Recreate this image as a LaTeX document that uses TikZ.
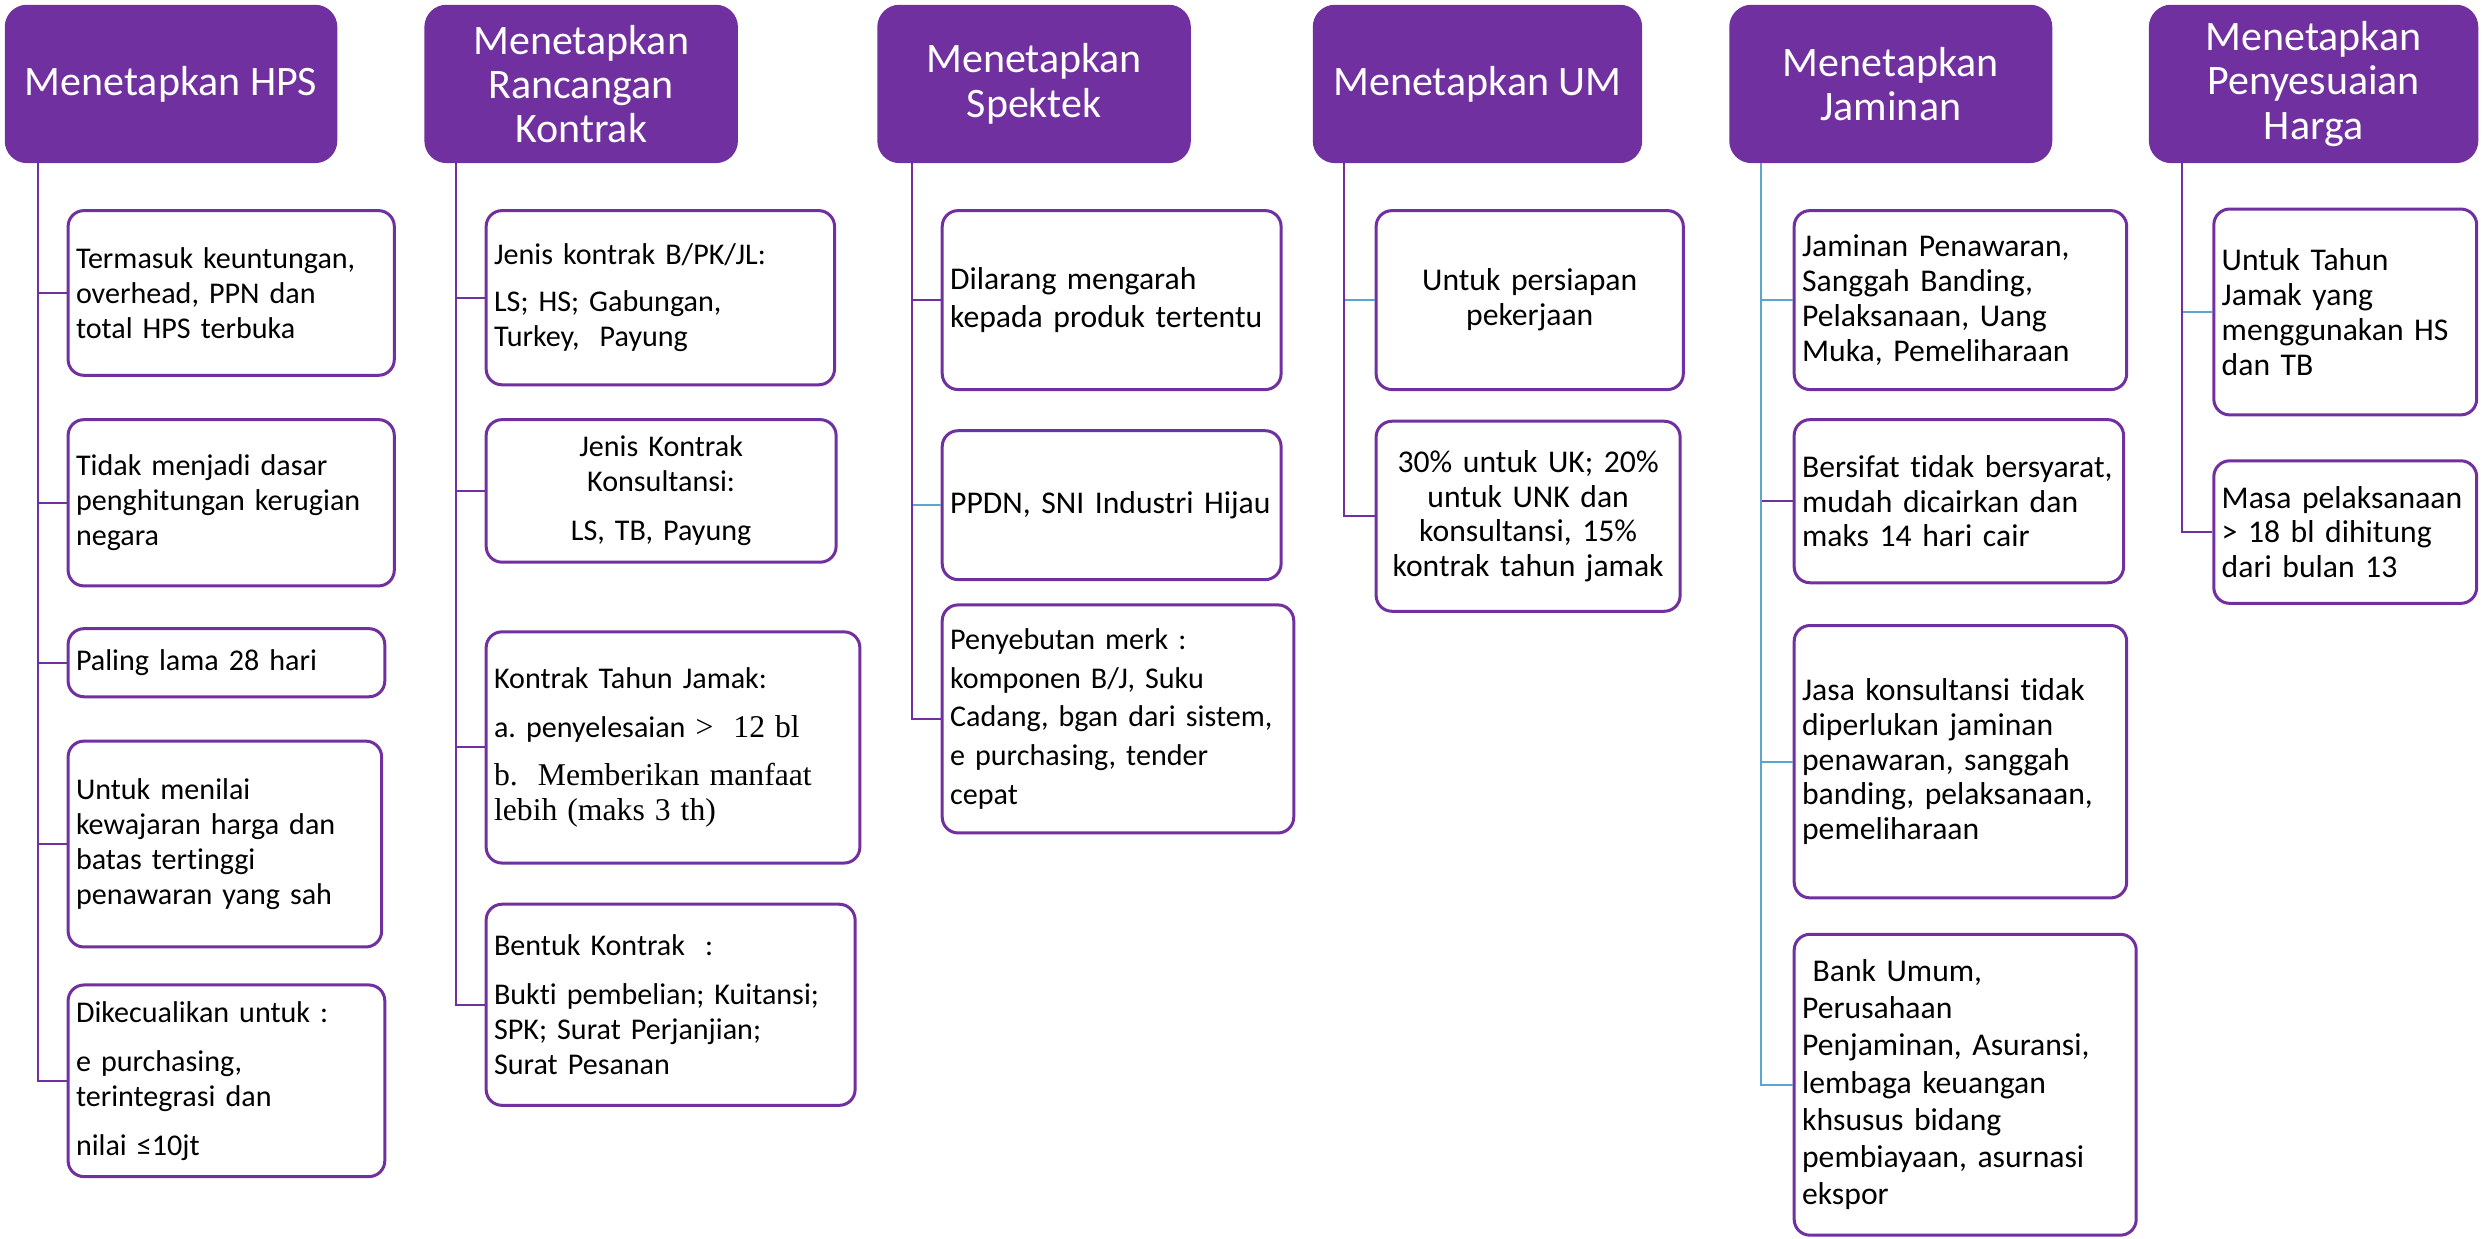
\documentclass[tikz,border=0pt]{standalone}
\usepackage{fontspec}
\setmainfont{Carlito}[Ligatures=NoCommon]
\newfontfamily\timesfont{Liberation Serif}
\definecolor{hpurple}{HTML}{7030A0}
\definecolor{lblue}{HTML}{5BA6D0}
\newcommand{\hdrfont}{\fontsize{26.5}{28}\selectfont}
\newcommand{\bodyfont}{\fontsize{19}{22}\selectfont}
\newcommand{\bodyfontb}{\fontsize{20}{22}\selectfont}
\newcommand{\bodyfontc}{\fontsize{20}{23.5}\selectfont}
\frenchspacing
\tikzset{
  hdr/.style={fill=hpurple, draw=none, rounded corners=14pt, text=white, font=\hdrfont,
    align=center, minimum height=100pt, inner sep=0pt},
  item/.style={draw=hpurple, fill=white, line width=1.9pt, rounded corners=10pt,
    font=\bodyfont, align=left, inner xsep=5pt, inner ysep=0pt},
  itemc/.style={item, align=center},
  conn/.style={draw=hpurple, line width=1.3pt},
  connb/.style={draw=lblue, line width=1.3pt}
}
\begin{document}
\begin{tikzpicture}[x=1pt, y=-1pt]
    \useasboundingbox (0,0) rectangle (1568,782);

    % headers
    \node[hdr, minimum width=210pt] (h1) at (108,53) {Menetapkan HPS};
    \node[hdr, minimum width=198pt] (h2) at (367,53) {Menetapkan\\Rancangan\\Kontrak};
    \node[hdr, minimum width=198pt] (h3) at (653,53) {Menetapkan\\Spektek};
    \node[hdr, minimum width=208pt] (h4) at (933,53) {Menetapkan UM};
    \node[hdr, minimum width=204pt] (h5) at (1194,53) {Menetapkan\\Jaminan};
    \node[hdr, minimum width=208pt] (h6) at (1461,53) {Menetapkan\\Penyesuaian\\Harga};

    % HPS
    \node[item, text width=196pt, minimum height=104pt] (a1) at (146,185)
        {Termasuk keuntungan,\\overhead, PPN dan\\total HPS terbuka};
    \node[item, text width=196pt, minimum height=105pt] (a2) at (146,317.5)
        {Tidak menjadi dasar\\penghitungan kerugian\\negara};
    \node[item, text width=190pt, minimum height=43pt] (a3) at (143,418.5)
        {Paling lama 28 hari};
    \node[item, text width=188pt, minimum height=130pt] (a4) at (142,533)
        {Untuk menilai\\kewajaran harga dan\\batas tertinggi\\penawaran yang sah};
    \node[item, text width=190pt, minimum height=121pt] (a5) at (143,682.5)
        {Dikecualikan untuk :\\[9pt]e purchasing,\\terintegrasi dan\\[9pt]nilai ≤10jt};

    % Rancangan Kontrak
    \node[item, text width=210pt, minimum height=110pt] (b1) at (417,188)
        {Jenis kontrak B/PK/JL:\\[8pt]LS; HS; Gabungan,\\Turkey,\ \ Payung};
    \node[itemc, text width=211pt, minimum height=90pt] (b2) at (417.5,310)
        {Jenis Kontrak\\Konsultansi:\\[9pt]LS, TB, Payung};
    \node[item, text width=226pt, minimum height=146pt] (b3) at (425,472)
        {Kontrak Tahun Jamak:\\[9pt]a. penyelesaian {\timesfont\fontsize{20}{22}\selectfont >\ \ 12 bl}\\[8pt]
         {\timesfont\fontsize{20}{22}\selectfont b.\ \ Memberikan manfaat\\lebih (maks 3 th)}};
    \node[item, text width=223pt, minimum height=127pt] (b4) at (423.5,634.5)
        {Bentuk Kontrak\ \ :\\[9pt]Bukti pembelian; Kuitansi;\\SPK; Surat Perjanjian;\\Surat Pesanan};

    % Spektek
    \node[item, font=\bodyfontc, text width=204pt, minimum height=113pt] (c1) at (702,189.5)
        {Dilarang mengarah\\kepada produk tertentu};
    \node[item, font=\bodyfontc, text width=204pt, minimum height=94pt] (c2) at (702,319)
        {PPDN, SNI Industri Hijau};
    \node[item, font=\fontsize{19}{24.5}\selectfont, text width=212pt, minimum height=144pt] (c3) at (706,454)
        {Penyebutan merk :\\komponen B/J, Suku\\Cadang, bgan dari sistem,\\e purchasing, tender\\cepat};

    % UM
    \node[itemc, font=\bodyfontb, text width=184pt, minimum height=113pt] (d1) at (966,189.5)
        {Untuk persiapan\\pekerjaan};
    \node[itemc, font=\bodyfontb, text width=182pt, minimum height=120pt] (d2) at (965,326)
        {30\% untuk UK; 20\%\\untuk UNK dan\\konsultansi, 15\%\\kontrak tahun jamak};

    % Jaminan
    \node[item, font=\bodyfontb, text width=200pt, minimum height=113pt] (e1) at (1238,189.5)
        {Jaminan Penawaran,\\Sanggah Banding,\\Pelaksanaan, Uang\\Muka, Pemeliharaan};
    \node[item, font=\bodyfontb, text width=198pt, minimum height=103pt] (e2) at (1237,316.5)
        {Bersifat tidak bersyarat,\\mudah dicairkan dan\\maks 14 hari cair};
    \node[item, font=\bodyfontb, text width=200pt, minimum height=172pt] (e3) at (1238,481)
        {Jasa konsultansi tidak\\diperlukan jaminan\\penawaran, sanggah\\banding, pelaksanaan,\\pemeliharaan};
    \node[item, font=\bodyfontc, text width=206pt, minimum height=190pt] (e4) at (1241,685)
        {\ Bank Umum,\\Perusahaan\\Penjaminan, Asuransi,\\lembaga keuangan\\khsusus bidang\\pembiayaan, asurnasi\\ekspor};

    % Penyesuaian Harga
    \node[item, font=\bodyfontb, text width=156pt, minimum height=130pt] (f1) at (1481,197)
        {Untuk Tahun\\Jamak yang\\menggunakan HS\\dan TB};
    \node[item, font=\bodyfontb, text width=156pt, minimum height=90pt] (f2) at (1481,336)
        {Masa pelaksanaan\\> 18 bl dihitung\\dari bulan 13};

    % connectors
    \draw[conn] ([xshift=21pt]h1.south west) |- (a1.west);
    \draw[conn] ([xshift=21pt]h1.south west) |- (a2.west);
    \draw[conn] ([xshift=21pt]h1.south west) |- (a3.west);
    \draw[conn] ([xshift=21pt]h1.south west) |- (a4.west);
    \draw[conn] ([xshift=21pt]h1.south west) |- (a5.west);

    \draw[conn] ([xshift=20pt]h2.south west) |- (b1.west);
    \draw[conn] ([xshift=20pt]h2.south west) |- (b2.west);
    \draw[conn] ([xshift=20pt]h2.south west) |- (b3.west);
    \draw[conn] ([xshift=20pt]h2.south west) |- (b4.west);

    \draw[conn] ([xshift=22pt]h3.south west) |- (c1.west);
    \draw[connb] ([xshift=22pt]h3.south west) |- (c2.west);
    \draw[conn] ([xshift=22pt]h3.south west) |- (c3.west);

    \draw[connb] ([xshift=20pt]h4.south west) |- (d1.west);
    \draw[conn] ([xshift=20pt]h4.south west) |- (d2.west);

    \draw[connb] ([xshift=20pt]h5.south west) |- (e1.west);
    \draw[conn] ([xshift=20pt]h5.south west) |- (e2.west);
    \draw[connb] ([xshift=20pt]h5.south west) |- (e3.west);
    \draw[connb] ([xshift=20pt]h5.south west) |- (e4.west);

    \draw[connb] ([xshift=21pt]h6.south west) |- (f1.west);
    \draw[conn] ([xshift=21pt]h6.south west) |- (f2.west);
\end{tikzpicture}
\end{document}
